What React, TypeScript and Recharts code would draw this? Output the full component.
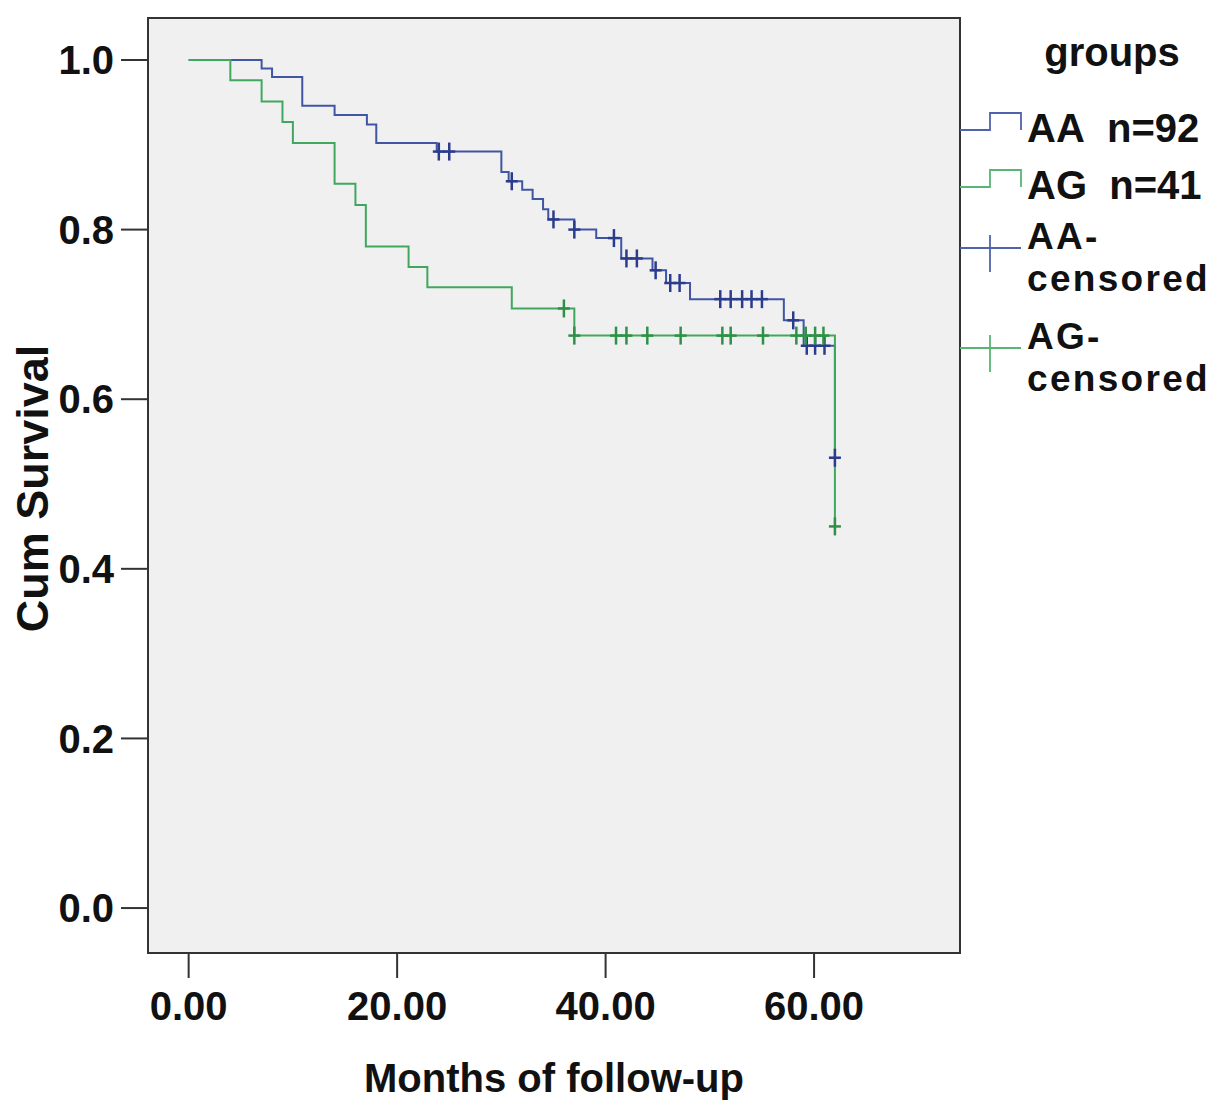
import React from 'react';
import {
  ComposedChart,
  Line,
  Scatter,
  XAxis,
  YAxis,
  ReferenceArea,
} from 'recharts';

// Kaplan-Meier steps (months, cumulative survival)
const aaTime = [0, 7.0, 8.0, 10.9, 14.0, 17.1, 18.0, 23.8, 30.0, 30.7, 32.0, 33.0, 34.0, 34.5, 37.0, 39.1, 41.5, 44.5, 45.8, 48.1, 57.1, 59.0, 62.0];
const aaSurv = [1.0, 0.99, 0.98, 0.946, 0.935, 0.924, 0.902, 0.892, 0.868, 0.857, 0.847, 0.836, 0.824, 0.812, 0.8, 0.79, 0.766, 0.752, 0.737, 0.718, 0.693, 0.663, 0.531];
const aaCensTime = [24.0, 25.0, 31.0, 35.0, 37.0, 40.8, 42.0, 43.0, 44.8, 46.2, 47.1, 51.0, 52.0, 53.1, 54.0, 55.0, 58.0, 59.3, 60.1, 61.0, 62.0];
const aaCensSurv = [0.892, 0.892, 0.857, 0.812, 0.8, 0.79, 0.766, 0.766, 0.752, 0.737, 0.737, 0.718, 0.718, 0.718, 0.718, 0.718, 0.693, 0.663, 0.663, 0.663, 0.531];

const agTime = [0, 4.0, 7.0, 9.0, 10.0, 14.0, 16.0, 17.0, 21.1, 22.9, 31.0, 37.0, 62.0];
const agSurv = [1.0, 0.976, 0.951, 0.927, 0.902, 0.854, 0.829, 0.78, 0.756, 0.732, 0.707, 0.675, 0.45];
const agCensTime = [36.0, 37.0, 41.0, 42.0, 44.0, 47.2, 51.2, 52.0, 55.1, 58.3, 59.2, 60.1, 60.9, 62.0];
const agCensSurv = [0.707, 0.675, 0.675, 0.675, 0.675, 0.675, 0.675, 0.675, 0.675, 0.675, 0.675, 0.675, 0.675, 0.45];

const xTicks = [0, 20, 40, 60];
const yTicks = [0, 0.2, 0.4, 0.6, 0.8, 1.0];
const xDomain = [-3.9, 74.0];
const yDomain = [-0.053, 1.0495];

const legendTitle = 'groups';
const legendItems = [
  { kind: 'step', color: '#5062ab', lines: ['AA\u00a0\u00a0n=92'] },
  { kind: 'step', color: '#58b573', lines: ['AG\u00a0\u00a0n=41'] },
  { kind: 'plus', color: '#5062ab', lines: ['AA-', 'censored'] },
  { kind: 'plus', color: '#58b573', lines: ['AG-', 'censored'] },
];

const BLUE = '#4055a3';
const GREEN = '#42a75e';
const BLUE_MARK = '#2b3c8c';
const GREEN_MARK = '#2e9147';
const FONT = '"Liberation Sans", Arial, sans-serif';

const zip = (t: number[], s: number[]) => t.map((v, i) => ({ t: v, s: s[i] }));
const aaData = zip(aaTime, aaSurv);
const agData = zip(agTime, agSurv);
const aaCens = zip(aaCensTime, aaCensSurv);
const agCens = zip(agCensTime, agCensSurv);

const plus = (color: string) => (props: any) => {
  const { cx, cy } = props;
  return (
    <g stroke={color} strokeWidth={2.5}>
      <line x1={cx - 6} y1={cy} x2={cx + 6} y2={cy} />
      <line x1={cx} y1={cy - 9} x2={cx} y2={cy + 9} />
    </g>
  );
};

const YTitle = (props: any) => {
  const { viewBox } = props;
  const cy = viewBox.y + viewBox.height / 2 + 3;
  const x = 48;
  return (
    <text
      x={x}
      y={cy}
      transform={`rotate(-90, ${x}, ${cy})`}
      textAnchor="middle"
      fontFamily={FONT}
      fontWeight="bold"
      fontSize={45}
      fill="#111"
    >
      Cum Survival
    </text>
  );
};

const XTitle = (props: any) => {
  const { viewBox } = props;
  const cx = viewBox.x + viewBox.width / 2;
  return (
    <text x={cx} y={1092} textAnchor="middle" fontFamily={FONT} fontWeight="bold" fontSize={40} fill="#111">
      Months of follow-up
    </text>
  );
};

function GroupLegend() {
  const rowTop = [113, 170, 222, 322];
  return (
    <svg width={256} height={420} style={{ position: 'absolute', left: 960, top: 0 }}>
      <text x={152} y={66} textAnchor="middle" fontFamily={FONT} fontWeight="bold" fontSize={40} fill="#111">
        {legendTitle}
      </text>
      {legendItems.map((it, i) => {
        const top = rowTop[i];
        const multi = it.lines.length > 1;
        return (
          <g key={i}>
            {it.kind === 'step' ? (
              <polyline
                points={`0,${top + 17} 30,${top + 17} 30,${top} 61,${top} 61,${top + 17}`}
                fill="none"
                stroke={it.color}
                strokeWidth={1.8}
              />
            ) : (
              <g stroke={it.color} strokeWidth={1.8}>
                <line x1={0} y1={top + 26} x2={61} y2={top + 26} />
                <line x1={30} y1={top + 13} x2={30} y2={top + 50} />
              </g>
            )}
            {it.lines.map((ln, j) => (
              <text
                key={j}
                x={67}
                y={multi ? top + 27 + j * 42 : top + 29}
                fontFamily={FONT}
                fontWeight="bold"
                fontSize={multi ? 37 : 40}
                letterSpacing={multi ? 2.3 : 0}
                fill="#111"
              >
                {ln}
              </text>
            ))}
          </g>
        );
      })}
    </svg>
  );
}

export default function App() {
  const tickStyle = { fontFamily: FONT, fontWeight: 'bold', fontSize: 40, fill: '#111' } as any;
  return (
    <div style={{ position: 'relative', width: 1216, height: 1100, background: '#fff' }}>
      <style>{`body{margin:0}`}</style>
      <ComposedChart width={1216} height={1100} margin={{ top: 18, right: 256, bottom: 0, left: 0 }}>
        <XAxis
          dataKey="t"
          type="number"
          domain={xDomain}
          allowDataOverflow
          ticks={xTicks}
          tickFormatter={(v: number) => v.toFixed(2)}
          height={147}
          axisLine={false}
          tickSize={25}
          tickMargin={14}
          tickLine={{ stroke: '#333', strokeWidth: 2 }}
          tick={tickStyle}
          label={<XTitle />}
        />
        <YAxis
          type="number"
          domain={yDomain}
          allowDataOverflow
          ticks={yTicks}
          tickFormatter={(v: number) => v.toFixed(1)}
          width={148}
          axisLine={false}
          tickSize={27}
          tickMargin={7}
          tickLine={{ stroke: '#333', strokeWidth: 2 }}
          tick={tickStyle}
          label={<YTitle />}
        />
        <ReferenceArea
          x1={xDomain[0]}
          x2={xDomain[1]}
          y1={yDomain[0]}
          y2={yDomain[1]}
          fill="#f0f0f0"
          fillOpacity={1}
          stroke="#333"
          strokeWidth={2}
          ifOverflow="extendDomain"
        />
        <Line data={aaData} dataKey="s" type="stepAfter" stroke={BLUE} strokeWidth={2} dot={false} activeDot={false} isAnimationActive={false} />
        <Line data={agData} dataKey="s" type="stepAfter" stroke={GREEN} strokeWidth={2} dot={false} activeDot={false} isAnimationActive={false} />
        <Scatter data={aaCens} dataKey="s" shape={plus(BLUE_MARK)} isAnimationActive={false} />
        <Scatter data={agCens} dataKey="s" shape={plus(GREEN_MARK)} isAnimationActive={false} />
      </ComposedChart>
      <GroupLegend />
    </div>
  );
}
